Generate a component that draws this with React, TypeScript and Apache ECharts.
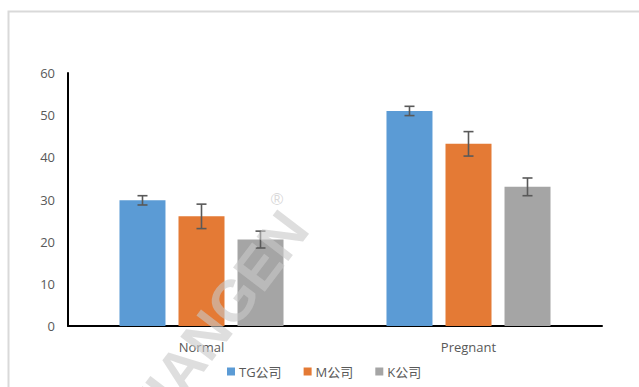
import React, { useEffect, useRef } from "react";
import * as echarts from "echarts";

const categories = ["Normal", "Pregnant"];
const seriesNames = ["TG公司", "M公司", "K公司"];
const tgValues = [29.8, 51.0];
const mValues = [26.0, 43.2];
const kValues = [20.5, 33.0];
const tgErrors = [1.1, 1.1];
const mErrors = [2.9, 2.9];
const kErrors = [2.0, 2.1];
const yTicks = [0, 10, 20, 30, 40, 50, 60];

const colors = ["#5B9BD5", "#E47A35", "#A5A5A5"];
const FONT = "'Open Sans', 'Noto Sans CJK SC', sans-serif";
const BAR_W = 46;
const GAP = 13;

export default function App() {
  const ref = useRef<HTMLDivElement>(null);
  useEffect(() => {
    if (!ref.current) return;
    const chart = echarts.init(ref.current, undefined, { renderer: "svg" });
    const values = [tgValues, mValues, kValues];
    const errors = [tgErrors, mErrors, kErrors];

    const barSeries = seriesNames.map((name, i) => ({
      name,
      type: "bar",
      data: values[i],
      barWidth: BAR_W,
      barGap: ((GAP / BAR_W) * 100).toFixed(1) + "%",
      itemStyle: { color: colors[i] },
      z: 2,
    }));

    const errSeries = seriesNames.map((name, i) => ({
      type: "custom",
      name: name + "_err",
      z: 5,
      data: values[i].map((v, j) => [j, v, errors[i][j]]),
      renderItem: (params: any, api: any) => {
        const x = api.value(0);
        const v = api.value(1);
        const e = api.value(2);
        const off = (i - 1) * (BAR_W + GAP);
        const top = api.coord([x, v + e]);
        const bot = api.coord([x, v - e]);
        const cx = top[0] + off;
        const cap = 5;
        const style = { stroke: "#595959", lineWidth: 1.6 };
        return {
          type: "group",
          children: [
            { type: "line", shape: { x1: cx, y1: top[1], x2: cx, y2: bot[1] }, style },
            { type: "line", shape: { x1: cx - cap, y1: top[1], x2: cx + cap, y2: top[1] }, style },
            { type: "line", shape: { x1: cx - cap, y1: bot[1], x2: cx + cap, y2: bot[1] }, style },
          ],
        };
      },
      tooltip: { show: false },
    }));

    chart.setOption({
      animation: false,
      backgroundColor: "#ffffff",
      textStyle: { fontFamily: FONT },
      grid: { left: 68, right: 37, top: 73, bottom: 61, containLabel: false },
      legend: {
        data: seriesNames.map((n, i) => ({ name: n, itemStyle: { color: colors[i] } })),
        left: 222,
        top: 360,
        icon: "rect",
        itemWidth: 8,
        itemHeight: 8,
        itemGap: 22,
        textStyle: { color: "#595959", fontSize: 13, fontFamily: FONT, padding: [0, 0, 0, -1] },
      },
      xAxis: {
        type: "category",
        data: categories,
        axisLine: { lineStyle: { color: "#000000", width: 2 } },
        axisTick: { show: false },
        axisLabel: { color: "#595959", fontSize: 13, margin: 14, fontFamily: FONT },
      },
      yAxis: {
        type: "value",
        min: yTicks[0],
        max: yTicks[yTicks.length - 1],
        interval: 10,
        axisLine: { show: true, lineStyle: { color: "#000000", width: 2 } },
        axisTick: { show: false },
        splitLine: { show: false },
        axisLabel: { color: "#595959", fontSize: 13, margin: 13, fontFamily: FONT },
      },
      graphic: [
        {
          type: "rect",
          shape: { x: 8.5, y: 11.5, width: 700, height: 500 },
          style: { fill: "none", stroke: "#D9D9D9", lineWidth: 2 },
          z: 0,
          silent: true,
        },
        {
          type: "text",
          x: 216,
          y: 322,
          rotation: 0.92,
          z: 100,
          silent: true,
          style: {
            text: "TIANGEN",
            fontSize: 58,
            fontWeight: "bold",
            fontFamily: "'Liberation Sans', sans-serif",
            fill: "rgba(200,200,200,0.6)",
            align: "center",
            verticalAlign: "middle",
          },
        },
        {
          type: "text",
          x: 277,
          y: 199,
          z: 100,
          silent: true,
          style: {
            text: "®",
            fontSize: 17,
            fontFamily: "'Liberation Sans', sans-serif",
            fill: "rgba(200,200,200,0.7)",
            align: "center",
            verticalAlign: "middle",
          },
        },
      ],
      series: [...barSeries, ...errSeries],
    });
    return () => chart.dispose();
  }, []);
  return (
    <div
      ref={ref}
      style={{ position: "absolute", left: 0, top: 0, width: 639, height: 387 }}
    />
  );
}
